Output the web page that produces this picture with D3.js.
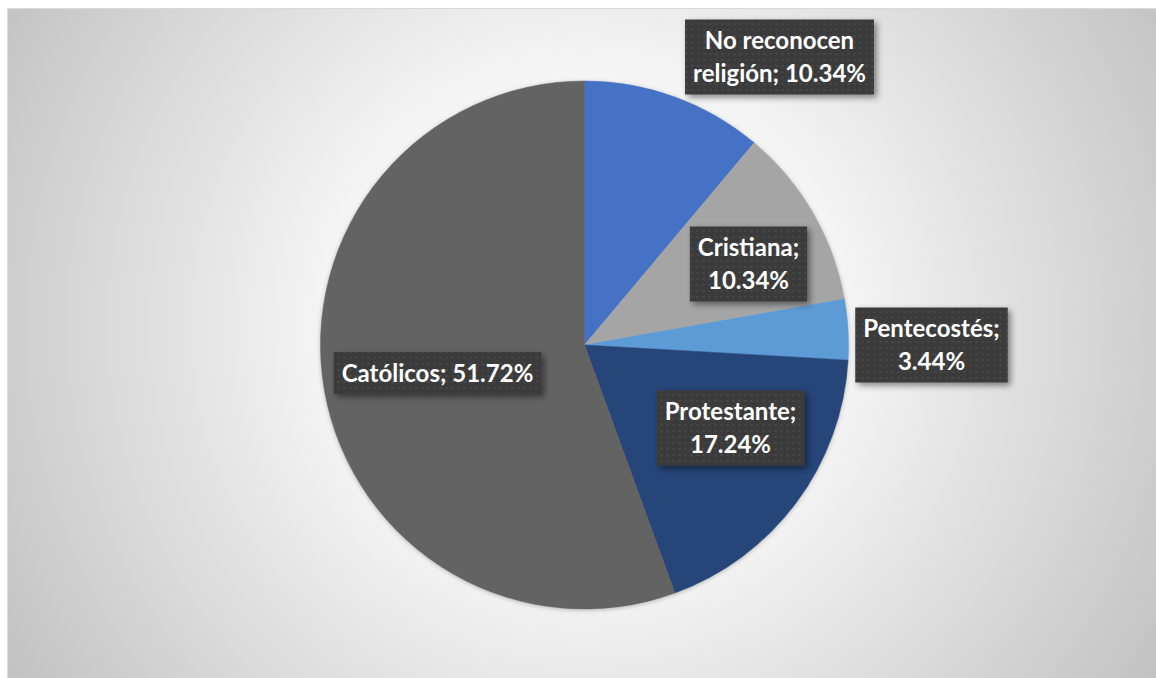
<!DOCTYPE html>
<html>
<head>
<meta charset="utf-8">
<script src="https://cdn.jsdelivr.net/npm/d3@7"></script>
<style>
  html, body { margin: 0; padding: 0; background: #fff; }
  svg { display: block; }
</style>
</head>
<body>
<div id="chart"></div>
<script>
const width = 1156;
const height = 678;

// data, in the order the slices go clockwise from 12 o'clock
const categories = ["No reconocen religión", "Cristiana", "Pentecostés", "Protestante", "Católicos"];
const values = [10.34, 10.34, 3.44, 17.24, 51.72];
const colours = ["#4472C4", "#A5A5A5", "#5B9BD5", "#264478", "#636363"];

// where each label box sits (centre, relative to pie centre) and where its text breaks
const labelPos = [[195, -288], [164, -81], [347, 0], [146, 83], [-147, 28]];
const labelLines = [
  ["No reconocen", "religión; 10.34%"],
  ["Cristiana;", "10.34%"],
  ["Pentecostés;", "3.44%"],
  ["Protestante;", "17.24%"],
  ["Católicos; 51.72%"]
];

const cx = 584.5, cy = 345, radius = 264;

const svg = d3.select('#chart').append('svg')
  .attr('width', width)
  .attr('height', height);

const defs = svg.append('defs');

const grad = defs.append('radialGradient')
  .attr('id', 'bg')
  .attr('gradientUnits', 'userSpaceOnUse')
  .attr('cx', cx).attr('cy', cy - 20).attr('r', 690);
grad.append('stop').attr('offset', 0).attr('stop-color', '#ffffff');
grad.append('stop').attr('offset', 0.38).attr('stop-color', '#f4f4f4');
grad.append('stop').attr('offset', 1).attr('stop-color', '#c0c0c0');

// dotted texture of the label boxes
const pat = defs.append('pattern')
  .attr('id', 'dots')
  .attr('patternUnits', 'userSpaceOnUse')
  .attr('width', 6).attr('height', 6);
pat.append('rect').attr('width', 6).attr('height', 6).attr('fill', '#3b3b3b');
pat.append('rect').attr('x', 2).attr('y', 2).attr('width', 2).attr('height', 2).attr('fill', '#494949');

const shadow = defs.append('filter').attr('id', 'shadow')
  .attr('x', '-20%').attr('y', '-30%').attr('width', '140%').attr('height', '170%');
shadow.append('feDropShadow')
  .attr('dx', 3).attr('dy', 3).attr('stdDeviation', 3)
  .attr('flood-color', '#000').attr('flood-opacity', 0.45);

const pieShadow = defs.append('filter').attr('id', 'pieShadow')
  .attr('x', '-10%').attr('y', '-10%').attr('width', '120%').attr('height', '120%');
pieShadow.append('feDropShadow')
  .attr('dx', 0).attr('dy', 1).attr('stdDeviation', 2)
  .attr('flood-color', '#000').attr('flood-opacity', 0.25);

// chart area
svg.append('rect')
  .attr('x', 7.5).attr('y', 8.5)
  .attr('width', width).attr('height', height)
  .attr('fill', 'url(#bg)')
  .attr('stroke', '#d9d9d9');

const g = svg.append('g').attr('transform', `translate(${cx},${cy})`);

const pie = d3.pie().sort(null).value(d => d);
const arcs = pie(values);
const arc = d3.arc().innerRadius(0).outerRadius(radius);

g.append('g').attr('filter', 'url(#pieShadow)')
  .selectAll('path')
  .data(arcs)
  .enter()
  .append('path')
  .attr('d', arc)
  .attr('fill', (d, i) => colours[i])
  .attr('stroke', (d, i) => colours[i])
  .attr('stroke-width', 0.5);

// labels
const fontSize = 24;
const lineH = 33;
const padX = 8;

const labels = g.selectAll('.lbl')
  .data(arcs)
  .enter()
  .append('g')
  .attr('class', 'lbl')
  .attr('transform', (d, i) => `translate(${labelPos[i][0]},${labelPos[i][1]})`);

labels.each(function (d, i) {
  const sel = d3.select(this);
  const box = sel.append('rect').attr('fill', 'url(#dots)').attr('filter', 'url(#shadow)');
  const lines = labelLines[i];
  const txt = sel.append('text')
    .attr('text-anchor', 'middle')
    .attr('fill', '#ffffff')
    .style('font-family', 'Lato, "Open Sans", sans-serif')
    .style('font-weight', 'bold')
    .style('font-size', fontSize + 'px');
  const top = -lines.length * lineH / 2;
  lines.forEach((l, k) => {
    txt.append('tspan')
      .attr('x', 0)
      .attr('y', top + k * lineH + lineH / 2)
      .attr('dy', '0.36em')
      .text(l);
  });
  let w = 0;
  txt.selectAll('tspan').each(function () { w = Math.max(w, this.getComputedTextLength()); });
  const bw = w + padX * 2;
  const bh = lines.length * lineH + 9;
  box.attr('x', -bw / 2).attr('y', -bh / 2).attr('width', bw).attr('height', bh);
});
</script>
</body>
</html>
